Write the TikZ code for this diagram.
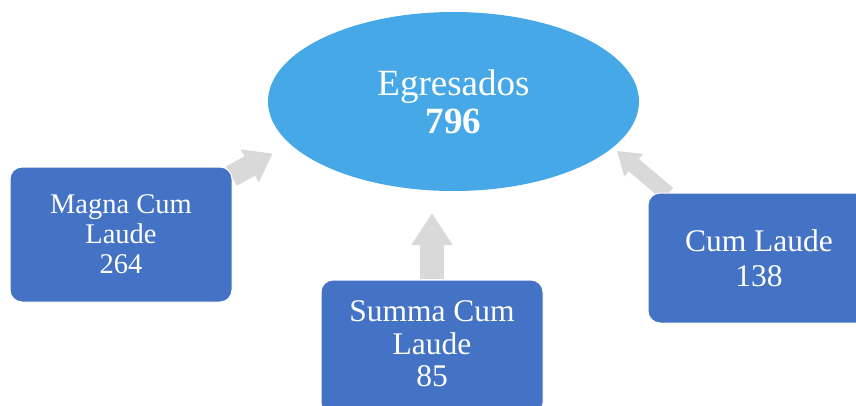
\documentclass[tikz,border=0pt]{standalone}
\usepackage{fontspec}
\setmainfont{Liberation Serif}
\usetikzlibrary{shapes.geometric,arrows.meta}
\definecolor{boxblue}{HTML}{4472C4}
\definecolor{ellblue}{HTML}{47A8E8}
\definecolor{arrgray}{HTML}{D9D9D9}
\tikzset{
  rbox/.style={draw=white, line width=1pt, fill=boxblue, rounded corners=12pt,
    minimum width=222pt, inner sep=0pt, text=white, align=center},
  blockarrow/.style={draw=arrgray, line width=#1},
}
\begin{document}
\begin{tikzpicture}[x=1pt,y=-1pt]
\useasboundingbox (0,0) rectangle (856,405);
% arrows
\coordinate (ltail) at (231.5,176);
\coordinate (ltip) at (272.5,153.5);
\coordinate (mtail) at (432,279);
\coordinate (mtip) at (432,213);
\coordinate (rtail) at (668,194);
\coordinate (rtip) at (617,151);
\draw[blockarrow=22pt, -{Triangle[length=26pt,width=36pt]}, color=arrgray] (ltail) -- (ltip);
\draw[blockarrow=24pt, -{Triangle[length=32pt,width=39pt]}, color=arrgray] (mtail) -- (mtip);
\draw[blockarrow=16pt, -{Triangle[length=22pt,width=28pt]}, color=arrgray] (rtail) -- (rtip);
% ellipse
\node[ellipse, fill=ellblue, minimum width=371pt, minimum height=179pt, inner sep=0pt,
  text=white, align=center, font=\fontsize{37}{38}\selectfont] (egr) at (453.5,101.5)
  {Egresados\\\textbf{796}};
% boxes
\node[rbox, minimum height=135pt, font=\fontsize{28.5}{30}\selectfont] (magna) at (121,234.5)
  {Magna Cum\\Laude\\264};
\node[rbox, minimum height=135pt] (summa) at (432,347.5) {};
\node[text=white, align=center, font=\fontsize{31.5}{32.5}\selectfont] (summat) at (432,344)
  {Summa Cum\\Laude\\85};
\node[rbox, minimum height=130pt, font=\fontsize{31.5}{35}\selectfont] (cum) at (759,258)
  {Cum Laude\\138};
\end{tikzpicture}
\end{document}
